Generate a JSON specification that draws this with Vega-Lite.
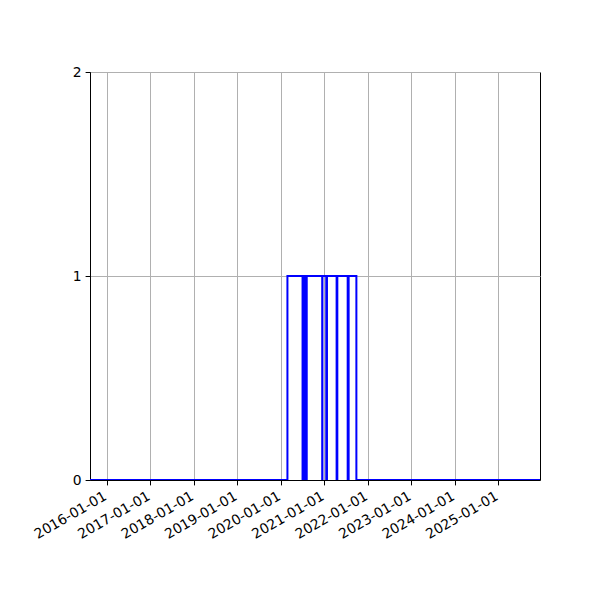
{
  "$schema": "https://vega.github.io/schema/vega-lite/v6.json",
  "width": 450,
  "height": 408,
  "autosize": "none",
  "padding": {"left": 90, "top": 72, "right": 60, "bottom": 120},
  "background": "white",
  "config": {
    "view": {"stroke": "black", "strokeWidth": 1},
    "axis": {
      "labelFont": "DejaVu Sans",
      "labelFontSize": 13.9,
      "labelColor": "black",
      "domainColor": "black",
      "domainWidth": 1,
      "tickColor": "black",
      "tickWidth": 1,
      "tickSize": 4.9,
      "labelPadding": 4,
      "grid": true,
      "gridColor": "#b0b0b0",
      "gridWidth": 1,
      "title": null
    }
  },
  "data": {
    "values": [
      {"date": "2015-08-01", "value": 0},
      {"date": "2020-02-27", "value": 1},
      {"date": "2020-07-03", "value": 0},
      {"date": "2020-07-08", "value": 1},
      {"date": "2020-07-15", "value": 0},
      {"date": "2020-07-21", "value": 1},
      {"date": "2020-07-29", "value": 0},
      {"date": "2020-08-07", "value": 1},
      {"date": "2020-12-15", "value": 0},
      {"date": "2020-12-17", "value": 1},
      {"date": "2021-01-18", "value": 0},
      {"date": "2021-01-24", "value": 1},
      {"date": "2021-04-15", "value": 0},
      {"date": "2021-04-21", "value": 1},
      {"date": "2021-07-17", "value": 0},
      {"date": "2021-07-25", "value": 1},
      {"date": "2021-09-28", "value": 0},
      {"date": "2026-01-31", "value": 0}
    ]
  },
  "mark": {"type": "line", "interpolate": "step-after", "color": "blue", "strokeWidth": 2, "clip": true},
  "encoding": {
    "x": {
      "field": "date",
      "type": "temporal",
      "scale": {
        "type": "utc",
        "domain": [
          {"year": 2015, "month": 8, "date": 14, "utc": true},
          {"year": 2025, "month": 12, "date": 18, "utc": true}
        ]
      },
      "axis": {
        "values": [
          {"year": 2016, "month": 1, "date": 1, "utc": true},
          {"year": 2017, "month": 1, "date": 1, "utc": true},
          {"year": 2018, "month": 1, "date": 1, "utc": true},
          {"year": 2019, "month": 1, "date": 1, "utc": true},
          {"year": 2020, "month": 1, "date": 1, "utc": true},
          {"year": 2021, "month": 1, "date": 1, "utc": true},
          {"year": 2022, "month": 1, "date": 1, "utc": true},
          {"year": 2023, "month": 1, "date": 1, "utc": true},
          {"year": 2024, "month": 1, "date": 1, "utc": true},
          {"year": 2025, "month": 1, "date": 1, "utc": true}
        ],
        "format": "%Y-%m-%d",
        "labelAngle": -30,
        "labelAlign": "right",
        "labelBaseline": "top",
        "labelOffset": -5,
        "labelOverlap": false,
        "labelFlush": false
      }
    },
    "y": {
      "field": "value",
      "type": "quantitative",
      "scale": {"domain": [0, 2], "nice": false},
      "axis": {"tickCount": 2, "labelFlush": false, "labelOverlap": false}
    }
  }
}
